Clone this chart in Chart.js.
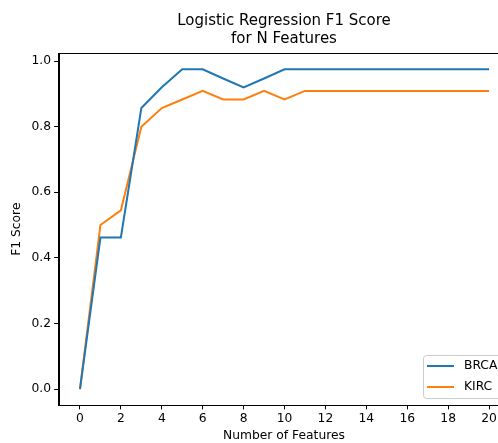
<!DOCTYPE html>
<html>
<head>
<meta charset="utf-8">
<script src="https://cdn.jsdelivr.net/npm/chart.js@4/dist/chart.umd.min.js"></script>
<style>
  html, body { margin: 0; padding: 0; background: #fff; overflow: hidden; width: 498px; height: 443px; }
  #wrap { position: absolute; left: 0; top: 0; width: 568px; height: 443px; }
</style>
</head>
<body>
<div id="wrap"><canvas id="c" width="568" height="443"></canvas></div>
<script>
// ---- data ----
const features = [0,1,2,3,4,5,6,7,8,9,10,11,12,13,14,15,16,17,18,19,20];
const brca = [0.0,0.462,0.462,0.857,0.92,0.975,0.975,0.947,0.92,0.947,0.975,0.975,0.975,0.975,0.975,0.975,0.975,0.975,0.975,0.975,0.975];
const kirc = [0.0,0.5,0.545,0.8,0.857,0.883,0.909,0.883,0.883,0.909,0.883,0.909,0.909,0.909,0.909,0.909,0.909,0.909,0.909,0.909,0.909];
const seriesNames = ['BRCA','KIRC'];
const xTicks = [0,2,4,6,8,10,12,14,16,18,20];
const yTicks = [0.0,0.2,0.4,0.6,0.8,1.0];
const titleLines = ['Logistic Regression F1 Score','for N Features'];
const xLabel = 'Number of Features';
const yLabel = 'F1 Score';

const COLORS = ['#1f77b4','#ff7f0e'];
const FONT = 'DejaVu Sans';

const frame = {
  id: 'frame',
  afterDraw(chart) {
    const {ctx, chartArea: a} = chart;
    ctx.save();
    ctx.strokeStyle = '#000';
    ctx.lineWidth = 1;
    ctx.strokeRect(Math.round(a.left)+0.5, Math.round(a.top)+0.5, Math.round(a.right-a.left), Math.round(a.bottom-a.top));
    ctx.restore();
  }
};

const legendBox = {
  id: 'legendBox',
  afterDraw(chart) {
    const {ctx} = chart;
    const ds = chart.data.datasets;
    const x0 = 423, y0 = 355, w = 84, h = 43, r = 3;
    ctx.save();
    ctx.fillStyle = 'rgba(255,255,255,0.8)';
    ctx.strokeStyle = '#cccccc';
    ctx.lineWidth = 1;
    ctx.beginPath();
    ctx.roundRect(x0+0.5, y0+0.5, w, h, r);
    ctx.fill();
    ctx.stroke();
    ctx.font = '12.3px "' + FONT + '"';
    ctx.textBaseline = 'middle';
    ctx.fillStyle = '#000';
    ds.forEach((d, i) => {
      const yy = y0 + 11 + i * 21;
      ctx.strokeStyle = d.borderColor;
      ctx.lineWidth = 2;
      ctx.beginPath();
      ctx.moveTo(427, yy);
      ctx.lineTo(454, yy);
      ctx.stroke();
      ctx.fillText(d.label, 464, yy);
    });
    ctx.restore();
  }
};

const mk = (vals) => features.map((f, i) => ({x: f, y: vals[i]}));

new Chart(document.getElementById('c'), {
  type: 'line',
  data: {
    datasets: [
      { label: seriesNames[0], data: mk(brca), borderColor: COLORS[0], backgroundColor: COLORS[0], borderWidth: 2, pointRadius: 0, tension: 0, fill: false },
      { label: seriesNames[1], data: mk(kirc), borderColor: COLORS[1], backgroundColor: COLORS[1], borderWidth: 2, pointRadius: 0, tension: 0, fill: false }
    ]
  },
  options: {
    responsive: false,
    animation: false,
    devicePixelRatio: 1,
    layout: { padding: { left: 0, right: 0, top: 0, bottom: 0 } },
    plugins: {
      legend: { display: false },
      tooltip: { enabled: false },
      title: {
        display: true,
        text: titleLines,
        color: '#000',
        font: { family: FONT, size: 15, weight: 'normal', lineHeight: 1.24 },
        padding: { top: 11.4, bottom: 4.7 }
      }
    },
    scales: {
      x: {
        type: 'linear',
        min: -1.05, max: 21.0,
        afterBuildTicks: (s) => { s.ticks = xTicks.map(v => ({value: v})); },
        afterFit: (s) => { s.height = 38; },
        grid: { drawOnChartArea: false, drawTicks: true, tickLength: 4.4, tickColor: '#000', tickWidth: 1 },
        border: { display: true, color: '#000', width: 1 },
        ticks: { color: '#000', padding: 2.5, font: { family: FONT, size: 12.3 }, maxRotation: 0, autoSkip: false, callback: (v) => String(v) },
        title: { display: true, text: xLabel, color: '#000', font: { family: FONT, size: 12.3, lineHeight: 1.2 }, padding: { top: 0, bottom: 0 } }
      },
      y: {
        type: 'linear',
        position: 'left',
        min: -0.04875, max: 1.02375,
        afterBuildTicks: (s) => { s.ticks = yTicks.map(v => ({value: v})); },
        afterFit: (s) => { s.width = 58.5; },
        grid: { drawOnChartArea: false, drawTicks: true, tickLength: 4.4, tickColor: '#000', tickWidth: 1 },
        border: { display: true, color: '#000', width: 1 },
        ticks: { color: '#000', padding: 3, font: { family: FONT, size: 12.3 }, autoSkip: false, callback: (v) => Number(v).toFixed(1) },
        title: { display: true, text: yLabel, color: '#000', font: { family: FONT, size: 12.3, lineHeight: 1.2 }, padding: { top: 9.6, bottom: 0 } }
      },
      yPad: {
        type: 'linear',
        position: 'right',
        display: true,
        min: 0, max: 1,
        afterFit: (s) => { s.width = 58.5; },
        grid: { display: false, drawTicks: false },
        border: { display: false },
        ticks: { display: false },
        title: { display: false }
      }
    }
  },
  plugins: [frame, legendBox]
});
</script>
</body>
</html>
